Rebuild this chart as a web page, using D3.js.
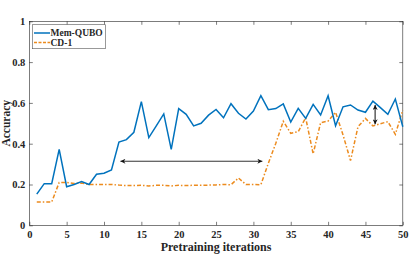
<!DOCTYPE html>
<html>
<head>
<meta charset="utf-8">
<script src="https://cdn.jsdelivr.net/npm/d3@7"></script>
<style>
  body { margin: 0; background: #fff; }
  svg text { font-family: "Liberation Serif", "DejaVu Serif", serif; font-weight: bold; fill: #262626; }
</style>
</head>
<body>
<div id="chart"></div>
<script>
const iterations = [1,2,3,4,5,6,7,8,9,10,11,12,13,14,15,16,17,18,19,20,21,22,23,24,25,
  26,27,28,29,30,31,32,33,34,35,36,37,38,39,40,41,42,43,44,45,46,47,48,49,50];

const memQubo = [0.153,0.204,0.204,0.372,0.189,0.2,0.214,0.2,0.25,0.255,
  0.271,0.408,0.42,0.456,0.606,0.43,0.487,0.546,0.372,0.572,
  0.544,0.487,0.5,0.54,0.568,0.527,0.596,0.549,0.521,0.56,
  0.635,0.567,0.572,0.595,0.506,0.573,0.524,0.593,0.541,0.635,
  0.488,0.581,0.59,0.565,0.554,0.609,0.577,0.544,0.619,0.483];

const cd1 = [0.114,0.114,0.114,0.21,0.21,0.205,0.207,0.2,0.2,0.2,
  0.2,0.197,0.195,0.195,0.196,0.193,0.196,0.196,0.193,0.196,
  0.195,0.196,0.196,0.197,0.198,0.2,0.199,0.232,0.2,0.2,
  0.199,0.304,0.402,0.51,0.451,0.459,0.527,0.35,0.503,0.511,
  0.554,0.443,0.317,0.483,0.524,0.487,0.498,0.508,0.446,0.565];

const xTicks = [0,5,10,15,20,25,30,35,40,45,50];
const yTicks = [0,0.2,0.4,0.6,0.8,1];
const seriesNames = ["Mem-QUBO", "CD-1"];

// annotation arrows, in data units
const gapArrow = { x1: 12.2, x2: 31.2, y: 0.314 };
const diffArrow = { x: 46.3, y1: 0.59, y2: 0.495 };

const width = 415, height = 256;
const serif = "'Liberation Serif', 'DejaVu Serif', serif";
const x = d3.scaleLinear().domain([0, 50]).range([29.3, 402.8]);
const y = d3.scaleLinear().domain([0, 1]).range([225.3, 21.3]);

const svg = d3.select("#chart").append("svg")
  .attr("width", width).attr("height", height);

const defs = svg.append("defs");
defs.append("marker").attr("id", "head")
  .attr("viewBox", "0 0 10 10").attr("refX", 10).attr("refY", 5)
  .attr("markerWidth", 7).attr("markerHeight", 5)
  .attr("markerUnits", "userSpaceOnUse")
  .attr("orient", "auto-start-reverse")
  .append("path").attr("d", "M0,0 L10,5 L0,10 L3,5 Z").attr("fill", "#111");

// axes with inward ticks
const axisColor = "#262626";
const gBottom = svg.append("g").attr("transform", `translate(0,${y(0)})`)
  .call(d3.axisBottom(x).tickValues(xTicks).tickSizeInner(-3.5).tickSizeOuter(0).tickPadding(5));
const gLeft = svg.append("g").attr("transform", `translate(${x(0)},0)`)
  .call(d3.axisLeft(y).tickValues(yTicks).tickSizeInner(-3.5).tickSizeOuter(0).tickPadding(4)
    .tickFormat(d => d === 0 || d === 1 ? String(d) : d.toFixed(1)));
const gTop = svg.append("g").attr("transform", `translate(0,${y(1)})`)
  .call(d3.axisTop(x).tickValues(xTicks).tickSizeInner(-3.5).tickSizeOuter(0).tickFormat(""));
const gRight = svg.append("g").attr("transform", `translate(${x(50)},0)`)
  .call(d3.axisRight(y).tickValues(yTicks).tickSizeInner(-3.5).tickSizeOuter(0).tickFormat(""));

[gBottom, gLeft, gTop, gRight].forEach(g => {
  g.attr("font-family", serif).attr("font-size", 10.5);
  g.select(".domain").remove();
  g.selectAll("line").attr("stroke", axisColor).attr("stroke-width", 0.6);
  g.selectAll("text").attr("fill", axisColor);
});

svg.append("rect")
  .attr("x", x(0)).attr("y", y(1))
  .attr("width", x(50) - x(0)).attr("height", y(0) - y(1))
  .attr("fill", "none").attr("stroke", axisColor).attr("stroke-width", 0.6);

// lines
const lineOf = vals => d3.line().x((d, i) => x(iterations[i])).y(d => y(d))(vals);

svg.append("path").attr("d", lineOf(cd1))
  .attr("fill", "none").attr("stroke", "#EC8B1E").attr("stroke-width", 1.5)
  .attr("stroke-dasharray", "4,2,1.5,2");

svg.append("path").attr("d", lineOf(memQubo))
  .attr("fill", "none").attr("stroke", "#0072BD").attr("stroke-width", 1.5);

// arrows
svg.append("line")
  .attr("x1", x(gapArrow.x1)).attr("x2", x(gapArrow.x2))
  .attr("y1", y(gapArrow.y)).attr("y2", y(gapArrow.y))
  .attr("stroke", "#333").attr("stroke-width", 1)
  .attr("marker-start", "url(#head)").attr("marker-end", "url(#head)");

svg.append("line")
  .attr("x1", x(diffArrow.x)).attr("x2", x(diffArrow.x))
  .attr("y1", y(diffArrow.y1)).attr("y2", y(diffArrow.y2))
  .attr("stroke", "#666").attr("stroke-width", 1.6)
  .attr("marker-start", "url(#head)").attr("marker-end", "url(#head)");

// axis titles
svg.append("text")
  .attr("x", (x(0) + x(50)) / 2).attr("y", 251)
  .attr("text-anchor", "middle").attr("font-size", 12).attr("font-family", serif)
  .text("Pretraining iterations");

svg.append("text")
  .attr("transform", `translate(10,${(y(0) + y(1)) / 2}) rotate(-90)`)
  .attr("text-anchor", "middle").attr("font-size", 11.5).attr("font-family", serif)
  .text("Accuracy");

// legend
const legend = svg.append("g").attr("font-family", serif);
legend.append("rect")
  .attr("x", 32.5).attr("y", 24.7).attr("width", 73).attr("height", 24)
  .attr("fill", "#fff").attr("stroke", "#555").attr("stroke-width", 0.6);
const legendStyles = [
  { color: "#0072BD", dash: null },
  { color: "#EC8B1E", dash: "3,1.5" }
];
seriesNames.forEach((name, i) => {
  const ly = 33 + i * 9.5;
  legend.append("line")
    .attr("x1", 34).attr("x2", 50).attr("y1", ly).attr("y2", ly)
    .attr("stroke", legendStyles[i].color).attr("stroke-width", 1.5)
    .attr("stroke-dasharray", legendStyles[i].dash);
  legend.append("text")
    .attr("x", 50.5).attr("y", ly + 3.3).attr("font-size", 9.5)
    .text(name);
});
</script>
</body>
</html>
